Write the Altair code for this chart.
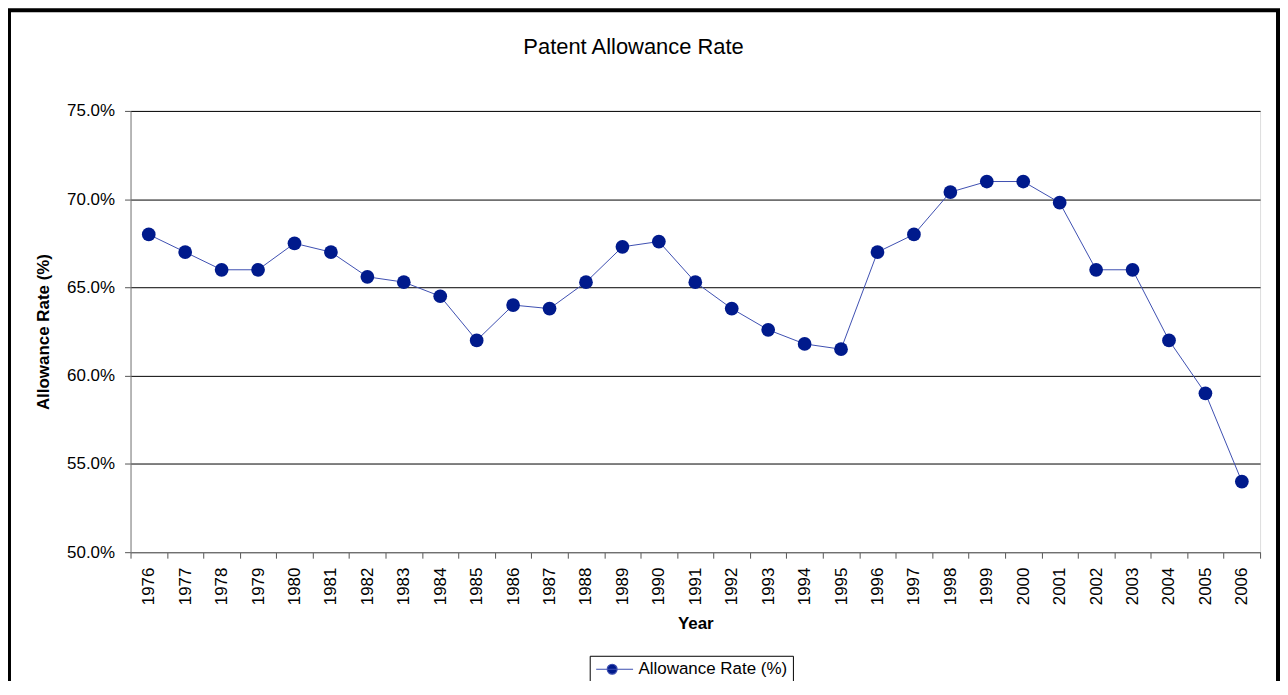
import altair as alt
import pandas as pd

years = ["1976", "1977", "1978", "1979", "1980", "1981", "1982", "1983", "1984", "1985",
         "1986", "1987", "1988", "1989", "1990", "1991", "1992", "1993", "1994", "1995",
         "1996", "1997", "1998", "1999", "2000", "2001", "2002", "2003", "2004", "2005", "2006"]
rates = [68.0, 67.0, 66.0, 66.0, 67.5, 67.0, 65.6, 65.3, 64.5, 62.0,
         64.0, 63.8, 65.3, 67.3, 67.6, 65.3, 63.8, 62.6, 61.8, 61.5,
         67.0, 68.0, 70.4, 71.0, 71.0, 69.8, 66.0, 66.0, 62.0, 59.0, 54.0]
series_name = "Allowance Rate (%)"
y_ticks = [50, 55, 60, 65, 70, 75]

df = pd.DataFrame({"Year": years, "Rate": rates, "Series": [series_name] * len(years)})

FONT = "Liberation Sans"
W, H = 1134, 443
MARKER = "#001a8c"
LINE = "#3d4fb0"

x_enc = alt.X(
    "Year:O", sort=years,
    scale=alt.Scale(type="band", paddingInner=0, paddingOuter=0),
    axis=alt.Axis(
        title="Year", labelAngle=270, tickBand="extent", tickSize=6, labelPadding=9,
        domainColor="#808080", tickColor="#555555", labelFontSize=17, labelColor="black",
        titleFontSize=17, titleFontWeight="bold", titleColor="black",
        titleY=72, titleBaseline="middle", grid=False, labelFont=FONT, titleFont=FONT,
    ),
)
y_enc = alt.Y(
    "Rate:Q",
    scale=alt.Scale(domain=[50, 75], nice=False, zero=False),
    axis=alt.Axis(
        values=y_ticks, labelExpr="format(datum.value, '.1f') + '%'",
        title="Allowance Rate (%)", tickSize=6, labelPadding=10,
        gridColor="black", gridWidth=1, domainColor="#808080", tickColor="#555555",
        labelFontSize=17, labelColor="black", labelFont=FONT,
        titleFontSize=17, titleFontWeight="bold", titleColor="black", titleFont=FONT,
        titleX=-87, titleY=H / 2, titleAngle=270, titleAlign="center", titleBaseline="middle",
    ),
)

base = alt.Chart(df)

line = base.mark_line(color=LINE, strokeWidth=1).encode(x=x_enc, y=y_enc)

# legend glyph: a line with a round marker (unit = 7px, symbol box 14px)
legend_path = ("M-1,0 L4.29,0 M0.58,0 A0.71,0.71 0 1,1 2.0,0 "
               "A0.71,0.71 0 1,1 0.58,0 Z")

points = base.mark_point(filled=True, size=190, opacity=1).encode(
    x=x_enc, y=y_enc,
    color=alt.Color(
        "Series:N", scale=alt.Scale(domain=[series_name], range=[MARKER]),
        legend=alt.Legend(
            title=None, orient="none", legendX=461, legendY=547,
            strokeColor="black", padding=5, symbolType=legend_path, symbolSize=196,
            symbolStrokeColor=LINE, symbolFillColor=MARKER, symbolStrokeWidth=1.2,
            labelFontSize=17, labelFont=FONT, labelColor="black", labelOffset=27,
            fillColor="white",
        ),
    ),
)

frame = alt.Chart(alt.Data(values=[{"k": 1}])).mark_rect(
    fillOpacity=0, stroke="black", strokeWidth=4
).encode(
    x=alt.value(-122), x2=alt.value(1152), y=alt.value(-101), y2=alt.value(700)
)

chart = alt.layer(frame, line, points).properties(
    width=W, height=H,
    padding={"left": 123, "top": 102, "right": 20, "bottom": 128},
    autosize=alt.AutoSizeParams(type="none"),
    title=alt.Title("Patent Allowance Rate", fontSize=22, fontWeight="normal", color="black",
                    anchor="middle", frame="group", baseline="alphabetic", offset=0, dy=68,
                    dx=-62, font=FONT),
).configure_view(stroke="#a0a0a0").configure(font=FONT, background="white")

chart.save("out.html", embed_options={"renderer": "svg", "actions": False})
